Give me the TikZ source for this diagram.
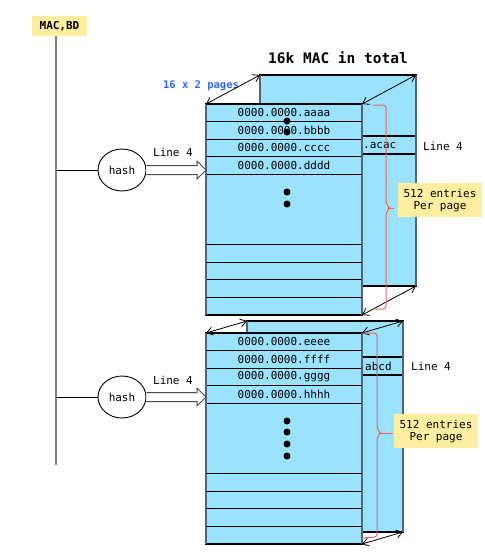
\documentclass[tikz,border=0pt]{standalone}
\usepackage{fontspec}
\setmonofont{DejaVu Sans Mono}
\usetikzlibrary{arrows.meta,calc,shapes.geometric}
\definecolor{pageblue}{RGB}{155,226,255}
\definecolor{pageedge}{RGB}{84,100,114}
\definecolor{notey}{RGB}{255,238,160}
\definecolor{bracered}{RGB}{240,104,84}
\definecolor{pagetxt}{RGB}{51,102,255}

\begin{document}
\begin{tikzpicture}[x=1pt,y=-1pt,
    font=\ttfamily\fontsize{11}{12}\selectfont,
    pagebox/.style={draw=black,fill=pageblue,line width=1.1pt,inner sep=0pt,outer sep=0pt,
      minimum width=156pt,minimum height=211pt,anchor=north west},
    sideline/.style={draw=pageedge,line width=2pt},
    rowline/.style={line width=1.1pt},
    notebox/.style={fill=notey,inner sep=0pt,minimum width=84pt,minimum height=34pt,align=center},
    hashbox/.style={draw,ellipse,line width=0.9pt,minimum width=48pt,minimum height=42pt,inner sep=0pt},
    cornerarrow/.style={{Straight Barb[length=6pt,width=8pt]}-{Straight Barb[length=6pt,width=8pt]},line width=0.8pt},
    bracket/.style={draw=bracered,line width=1pt,rounded corners=3pt},
    hollow/.style={draw=gray!60!black,fill=white,line width=1pt},
    bus/.style={draw=gray,line width=2pt}]
\useasboundingbox (0,0) rectangle (485,558);

% title and labels
\node[font=\ttfamily\bfseries\fontsize{14.5}{16}\selectfont] (title) at (338,58) {16k MAC in total};
\node[text=pagetxt,font=\ttfamily\bfseries\fontsize{10.5}{12}\selectfont] (pages) at (201,86) {16 x 2 pages};
\node[fill=notey,inner sep=0pt,minimum width=55pt,minimum height=20pt,
  font=\ttfamily\bfseries\fontsize{11}{12}\selectfont] (macbd) at (59.5,26) {MAC,BD};
\coordinate (busend) at (56,465);
\draw[bus] (macbd.south -| busend) -- (busend);

% upper block
\node[pagebox] (topback) at (260,75) {};
\draw[rowline] ($(topback.north west)+(0,61)$) -- ($(topback.north east)+(0,61)$);
\draw[rowline] ($(topback.north west)+(0,79)$) -- ($(topback.north east)+(0,79)$);
\node[anchor=west,inner sep=0pt] (acac) at (363,145) {.acac};
\draw[sideline] (topback.north west) -- (topback.south west) (topback.north east) -- (topback.south east);

\node[pagebox] (topfront) at (206,104) {};
\foreach \k in {1,2,3,4,8,9,10,11}
  \draw[rowline] ($(topfront.north west)!\k/12!(topfront.south west)$) -- ($(topfront.north east)!\k/12!(topfront.south east)$);
\foreach \t [count=\k] in {aaaa,bbbb,cccc,dddd}
  \node (top\t) at ($(topfront.north)!{(\k-0.5)/12}!(topfront.south)$) {0000.0000.\t};
\draw[sideline] (topfront.north west) -- (topfront.south west) (topfront.north east) -- (topfront.south east);
\foreach \y in {121,132,192,204}
  \fill (287,\y) circle (3.5pt);

\draw[cornerarrow] (topfront.north west) -- (topback.north west);
\draw[cornerarrow] (topfront.north east) -- (topback.north east);
\draw[cornerarrow] (topfront.south east) -- (topback.south east);

\node[notebox] (noteA) at (440,200) {512 entries\\Per page};
\draw[bracket] (373,105) -- (386,105) -- (386,204) -- (390,208) -- (386,212) -- (386,309) -- (375,309);
\draw[bracket] (389,208) -- (394,208);

\node[hashbox] (hashA) at (122,170) {hash};
\draw[line width=0.9pt] (busend |- hashA) -- (hashA.west);
\coordinate (tipA) at (topfront.west |- hashA);
\draw[hollow] ($(hashA.east)+(0,-4.5)$) -- ($(tipA)+(-9,-4.5)$) -- ($(tipA)+(-9,-9)$) -- (tipA)
  -- ($(tipA)+(-9,9)$) -- ($(tipA)+(-9,4.5)$) -- ($(hashA.east)+(0,4.5)$);
\node (lineA) at (173,152) {Line 4};
\node (lineAr) at (443,146) {Line 4};

% lower block
\node[pagebox] (botback) at (247,321) {};
\draw[rowline] ($(botback.north west)+(0,36)$) -- ($(botback.north east)+(0,36)$);
\draw[rowline] ($(botback.north west)+(0,54)$) -- ($(botback.north east)+(0,54)$);
\node[anchor=west,inner sep=0pt] (abcd) at (365,366) {abcd};
\draw[sideline] (botback.north west) -- (botback.south west) (botback.north east) -- (botback.south east);

\node[pagebox] (botfront) at (206,333) {};
\foreach \k in {1,2,3,4,8,9,10,11}
  \draw[rowline] ($(botfront.north west)!\k/12!(botfront.south west)$) -- ($(botfront.north east)!\k/12!(botfront.south east)$);
\foreach \t [count=\k] in {eeee,ffff,gggg,hhhh}
  \node (bot\t) at ($(botfront.north)!{(\k-0.5)/12}!(botfront.south)$) {0000.0000.\t};
\draw[sideline] (botfront.north west) -- (botfront.south west) (botfront.north east) -- (botfront.south east);
\foreach \y in {421,432,444,456}
  \fill (287,\y) circle (3.5pt);

\draw[cornerarrow] (botfront.north west) -- (botback.north west);
\draw[cornerarrow] (botfront.north east) -- (botback.north east);
\draw[cornerarrow] (botfront.south east) -- (botback.south east);

\node[notebox] (noteB) at (436,431) {512 entries\\Per page};
\draw[bracket] (363,333) -- (377,333) -- (377,429) -- (381,433) -- (377,437) -- (377,537) -- (362,538);
\draw[bracket] (380,433) -- (393,433);

\node[hashbox] (hashB) at (122,397) {hash};
\draw[line width=0.9pt] (busend |- hashB) -- (hashB.west);
\coordinate (tipB) at (botfront.west |- hashB);
\draw[hollow] ($(hashB.east)+(0,-4.5)$) -- ($(tipB)+(-9,-4.5)$) -- ($(tipB)+(-9,-9)$) -- (tipB)
  -- ($(tipB)+(-9,9)$) -- ($(tipB)+(-9,4.5)$) -- ($(hashB.east)+(0,4.5)$);
\node (lineB) at (173,380) {Line 4};
\node (lineBr) at (431,366) {Line 4};
\end{tikzpicture}
\end{document}
